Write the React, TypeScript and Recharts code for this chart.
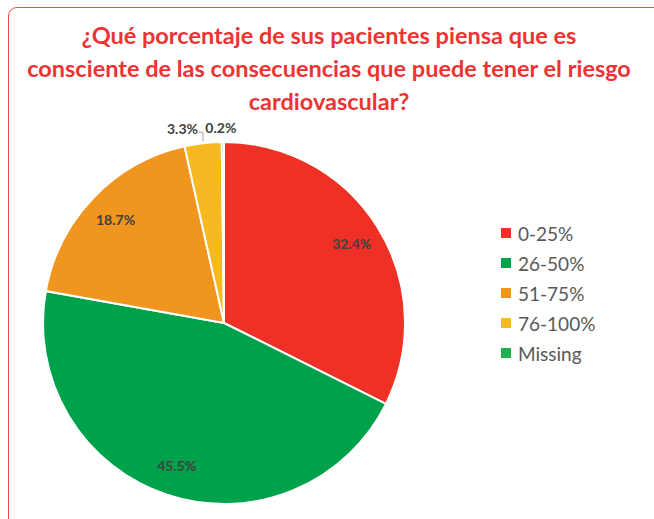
import React from 'react';
import { PieChart, Pie, Cell, Legend } from 'recharts';

const categories = ['0-25%', '26-50%', '51-75%', '76-100%', 'Missing'];
const shares = [32.4, 45.5, 18.7, 3.3, 0.2];
const colors = ['#EE3124', '#00A14B', '#F0961E', '#F6B921', '#1FB14C'];
const titleLines = [
    '¿Qué porcentaje de sus pacientes piensa que es',
    'consciente de las consecuencias que puede tener el riesgo',
    'cardiovascular?',
];

const data = categories.map((name, i) => ({ name, value: shares[i] }));
const RAD = Math.PI / 180;

const renderLabel = (props: any) => {
    const { cx, cy, midAngle, outerRadius, value, index } = props;
    const txt = `${value.toFixed(1)}%`;
    const style = { fontFamily: 'Lato, sans-serif', fontWeight: 700, fontSize: 14, fill: '#404040' };
    if (value >= 5) {
        const r = outerRadius * 0.83;
        const x = cx + r * Math.cos(-midAngle * RAD);
        const y = cy + r * Math.sin(-midAngle * RAD);
        return (
            <text x={x} y={y} textAnchor="middle" dominantBaseline="central" style={style}>
                {txt}
            </text>
        );
    }
    // small slices: label outside above the rim
    const ex = cx + outerRadius * Math.cos(-midAngle * RAD);
    const ey = cy + outerRadius * Math.sin(-midAngle * RAD);
    if (index === 3) {
        return (
            <g>
                <polyline points={`${ex - 4},${ey - 11} ${ex},${ey - 11} ${ex},${ey - 2}`} fill="none" stroke="#a6a6a6" strokeWidth={1} />
                <text x={ex - 5} y={ey - 15} textAnchor="end" dominantBaseline="central" style={style}>
                    {txt}
                </text>
            </g>
        );
    }
    return (
        <text x={ex - 2} y={ey - 15} textAnchor="middle" dominantBaseline="central" style={style}>
            {txt}
        </text>
    );
};

const renderLegend = (props: any) => {
    const items = props.payload && props.payload.length
        ? props.payload
        : categories.map((c, i) => ({ value: c, color: colors[i] }));
    return (
        <div style={{ fontFamily: 'Lato, sans-serif', fontSize: 19, color: '#595959' }}>
            {items.map((it: any) => (
                <div key={it.value} style={{ display: 'flex', alignItems: 'center', height: 30 }}>
                    <span style={{ display: 'inline-block', width: 10, height: 10, background: it.color, marginRight: 7 }} />
                    <span>{it.value}</span>
                </div>
            ))}
        </div>
    );
};

export default function App() {
    return (
        <div style={{ position: 'absolute', left: 0, top: 0, width: 654, height: 519, overflow: 'hidden', background: '#fff' }}>
            <div
                style={{
                    position: 'absolute', left: 8, top: 7, width: 720, height: 600,
                    border: '1.5px solid #F0474A', borderRadius: 9, boxSizing: 'border-box',
                }}
            />
            <div
                style={{
                    position: 'absolute', left: 0, top: 19, width: 658, textAlign: 'center',
                    fontFamily: 'Lato, sans-serif', fontWeight: 700, fontSize: 23.5, lineHeight: '33px',
                    color: '#EE3333',
                }}
            >
                {titleLines.map((l) => (
                    <div key={l}>{l}</div>
                ))}
            </div>
            <div style={{ position: 'absolute', left: 0, top: 0 }}>
                <PieChart width={654} height={519} margin={{ top: 0, right: 0, bottom: 0, left: 0 }}>
                    <Pie
                        data={data}
                        dataKey="value"
                        nameKey="name"
                        cx={224}
                        cy={323}
                        outerRadius={181}
                        startAngle={90}
                        endAngle={-270}
                        stroke="#ffffff"
                        strokeWidth={2}
                        label={renderLabel}
                        labelLine={false}
                        isAnimationActive={false}
                    >
                        {data.map((d, i) => (
                            <Cell key={d.name} fill={colors[i]} />
                        ))}
                    </Pie>
                    <Legend
                        layout="vertical"
                        align="right"
                        verticalAlign="top"
                        content={renderLegend}
                        wrapperStyle={{ left: 501, top: 218, width: 140 }}
                    />
                </PieChart>
            </div>
        </div>
    );
}
